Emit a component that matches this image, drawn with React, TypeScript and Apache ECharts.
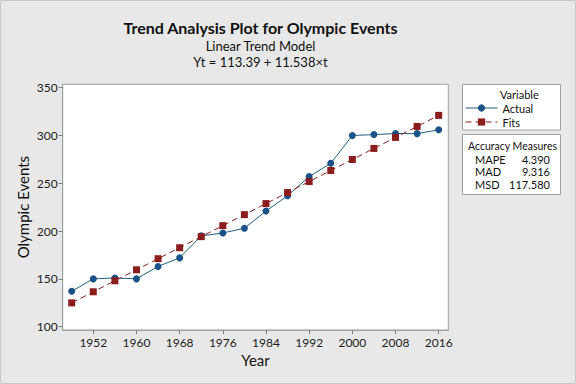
import React, { useEffect, useRef } from "react";
import * as echarts from "echarts";

const years = [1948, 1952, 1956, 1960, 1964, 1968, 1972, 1976, 1980, 1984, 1988, 1992, 1996, 2000, 2004, 2008, 2012, 2016];
const actual = [137, 150, 151, 150, 163, 172, 195, 198, 203, 221, 237, 257, 271, 300, 301, 302, 302, 306];
const fits = [124.9, 136.5, 148.0, 159.5, 171.1, 182.6, 194.2, 205.7, 217.2, 228.8, 240.3, 251.8, 263.4, 274.9, 286.5, 298.0, 309.5, 321.1];
const xTicks = [1952, 1960, 1968, 1976, 1984, 1992, 2000, 2008, 2016];
const yTicks = [100, 150, 200, 250, 300, 350];
const accuracyLabels = ["MAPE", "MAD", "MSD"];
const accuracyValues = ["4.390", "9.316", "117.580"];

const FONT = "Lato, 'Noto Sans', sans-serif";
const BLUE = "#1a5288";
const RED = "#8c1d1d";

export default function App() {
  const ref = useRef<HTMLDivElement>(null);
  useEffect(() => {
    if (!ref.current) return;
    const chart = echarts.init(ref.current, undefined, { renderer: "svg" });
    const accTexts: any[] = [];
    accuracyLabels.forEach((l, i) => {
      accTexts.push({
        type: "text", x: 475, y: 159 + i * 12.7,
        style: { text: l, font: `11px ${FONT}`, fill: "#111", textVerticalAlign: "middle", textAlign: "left" },
      });
      accTexts.push({
        type: "text", x: 550, y: 159 + i * 12.7,
        style: { text: accuracyValues[i], font: `11px ${FONT}`, fill: "#111", textVerticalAlign: "middle", textAlign: "right" },
      });
    });
    chart.setOption({
      animation: false,
      backgroundColor: "#e8e8e8",
      grid: { left: 62.7, top: 84.3, right: 127.7, bottom: 54, show: true, backgroundColor: "#ffffff", borderColor: "#a0a0a0", borderWidth: 1 },
      xAxis: {
        type: "value", min: 1946.33, max: 2017.78,
        name: "Year", nameLocation: "middle", nameGap: 21,
        nameTextStyle: { fontFamily: FONT, fontSize: 15, color: "#111" },
        axisLine: { show: true, lineStyle: { color: "#a0a0a0" } },
        axisTick: { show: true, length: 4, customValues: xTicks, lineStyle: { color: "#808080" } },
        axisLabel: { customValues: xTicks, formatter: (v: number) => String(v), fontFamily: FONT, fontSize: 12, color: "#222", margin: 6 },
        splitLine: { show: false },
      },
      yAxis: {
        type: "value", min: 96.5, max: 353.6,
        name: "Olympic Events", nameLocation: "middle", nameGap: 32, nameMoveOverlap: false,
        nameTextStyle: { fontFamily: FONT, fontSize: 15, color: "#111" },
        axisLine: { show: true, lineStyle: { color: "#a0a0a0" } },
        axisTick: { show: true, length: 4, customValues: yTicks, lineStyle: { color: "#808080" } },
        axisLabel: { customValues: yTicks, formatter: (v: number) => String(v), fontFamily: FONT, fontSize: 12, color: "#222", margin: 5 },
        splitLine: { show: false },
      },
      legend: {
        orient: "vertical", left: 465, top: 102.5, padding: 0, itemWidth: 32, itemHeight: 9, itemGap: 3,
        textStyle: { fontFamily: FONT, fontSize: 11, color: "#111" },
        lineStyle: { width: 1 },
        data: ["Actual", "Fits"],
      },
      series: [
        {
          name: "Actual", type: "line", data: years.map((y, i) => [y, actual[i]]),
          symbol: "circle", symbolSize: 7,
          itemStyle: { color: BLUE }, lineStyle: { color: "#1f5f80", width: 1 },
        },
        {
          name: "Fits", type: "line", data: years.map((y, i) => [y, fits[i]]),
          symbol: "rect", symbolSize: 7,
          itemStyle: { color: RED }, lineStyle: { color: RED, width: 1, type: [6, 4] },
        },
      ],
      graphic: [
        { type: "rect", x: 0.5, y: 0.5, shape: { width: 575, height: 383 }, style: { fill: "none", stroke: "#c8c8c8" }, z: -1 },
        { type: "text", x: 260.5, y: 27, style: { text: "Trend Analysis Plot for Olympic Events", font: `bold 16px ${FONT}`, fill: "#111", textAlign: "center", textVerticalAlign: "middle" } },
        { type: "text", x: 260.5, y: 45.5, style: { text: "Linear Trend Model", font: `13px ${FONT}`, fill: "#111", textAlign: "center", textVerticalAlign: "middle" } },
        { type: "text", x: 260.5, y: 62, style: { text: "Yt = 113.39 + 11.538×t", font: `13px ${FONT}`, fill: "#111", textAlign: "center", textVerticalAlign: "middle" } },
        { type: "rect", x: 462.5, y: 84.5, shape: { width: 98, height: 45.5 }, style: { fill: "#ffffff", stroke: "#a0a0a0" }, z: -1 },
        { type: "text", x: 519.3, y: 94.3, style: { text: "Variable", font: `11px ${FONT}`, fill: "#111", textAlign: "center", textVerticalAlign: "middle" } },
        { type: "rect", x: 462.5, y: 134.5, shape: { width: 98, height: 60 }, style: { fill: "#ffffff", stroke: "#a0a0a0" }, z: -1 },
        { type: "text", x: 512.5, y: 146, style: { text: "Accuracy Measures", font: `10.5px ${FONT}`, fill: "#111", textAlign: "center", textVerticalAlign: "middle" } },
        ...accTexts,
      ],
    });
    return () => chart.dispose();
  }, []);
  return <div ref={ref} style={{ width: 576, height: 384, position: "absolute", left: 0, top: 0 }} />;
}
